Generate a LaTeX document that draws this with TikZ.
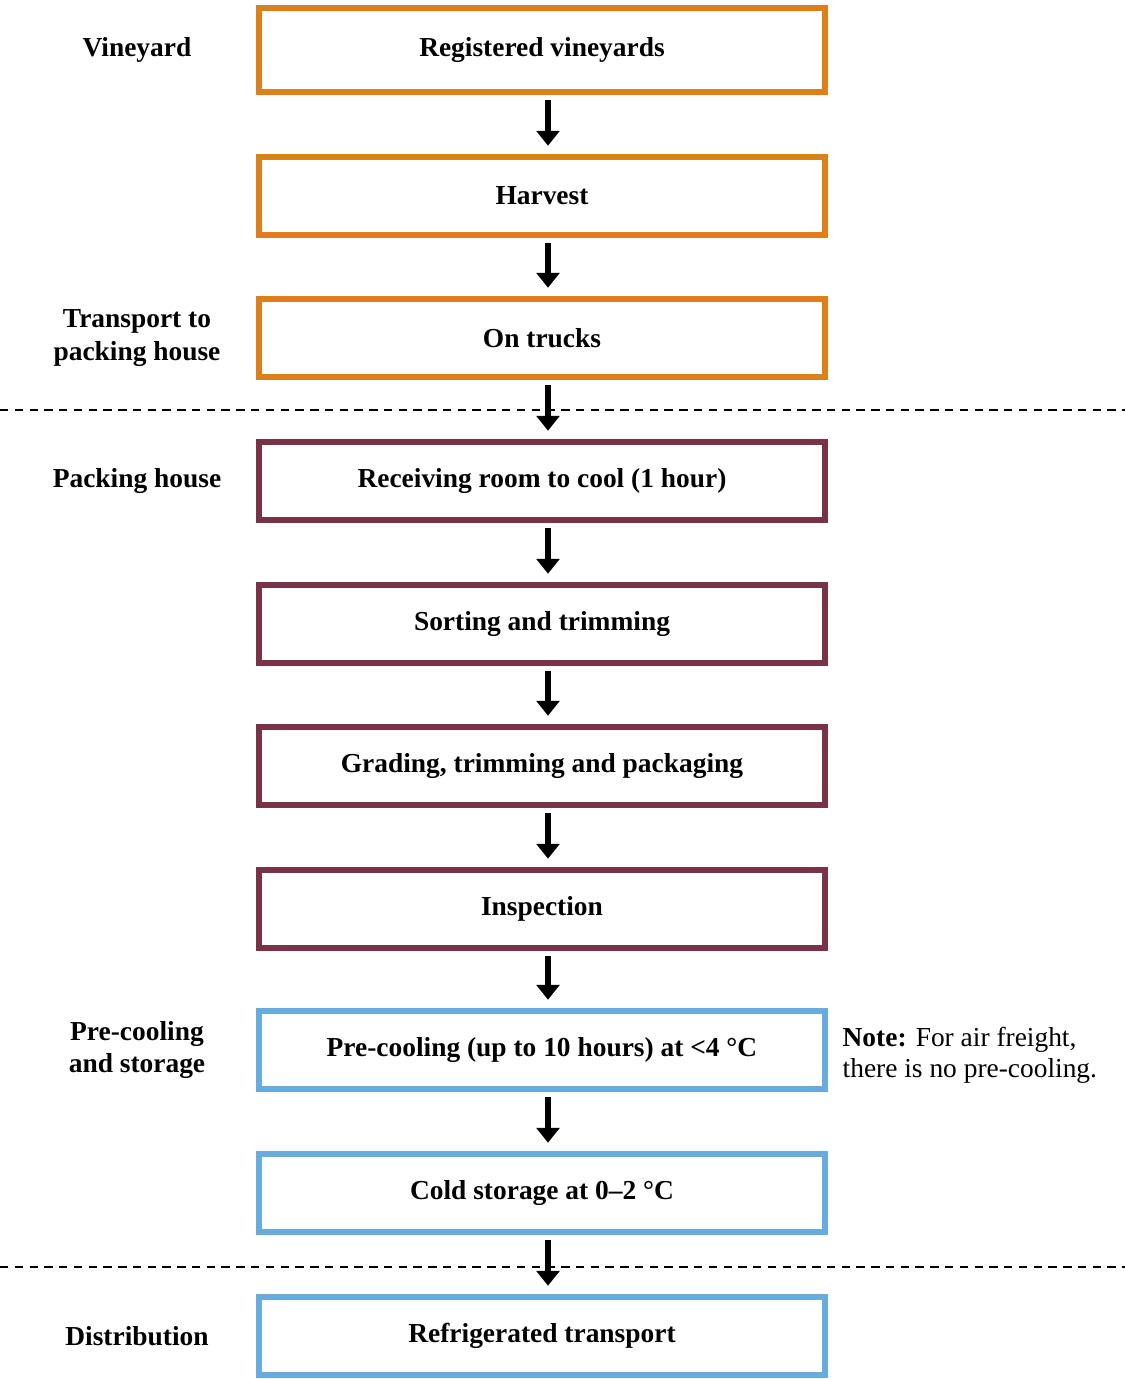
\documentclass[tikz,border=0pt]{standalone}
\usepackage{fontspec}
\setmainfont{Liberation Serif}
\usepackage{tikz}
\usetikzlibrary{arrows.meta}

\definecolor{vineorange}{RGB}{222,128,26}
\definecolor{packmaroon}{RGB}{122,50,70}
\definecolor{coolblue}{RGB}{104,172,222}

\begin{document}
\begin{tikzpicture}[x=0.025cm, y=-0.025cm, outer sep = 0pt]

\tikzstyle{stage}=[draw, rectangle, line width=4.2pt, minimum height=1.95cm, minimum width=14.15cm, font=\fontsize{19.5}{22}\selectfont\bfseries, fill=white]
\tikzstyle{phase}=[align=center, font=\fontsize{19.5}{23}\selectfont\bfseries]
\tikzstyle{flow}=[-{Triangle[width=16pt,length=10.5pt]}, line width=3.8pt, shorten <=5.5pt, shorten >=8pt]
\tikzstyle{divider}=[dashed, line width=1.4pt, dash pattern=on 6pt off 4.5pt]

\useasboundingbox (0,0) rectangle (1125,1379);

% dashed phase borders
\draw[divider] (0,410) -- (1125,410);
\draw[divider] (0,1267) -- (1125,1267);

\node[stage, draw=vineorange, minimum height=2.1cm] (vineyards) at (542,50) {Registered vineyards};
\node[stage, draw=vineorange] (harvest) at (542,196) {Harvest};
\node[stage, draw=vineorange] (trucks) at (542,338) {On trucks};
\node[stage, draw=packmaroon] (receive) at (542,481) {Receiving room to cool (1 hour)};
\node[stage, draw=packmaroon] (sort) at (542,624) {Sorting and trimming};
\node[stage, draw=packmaroon] (grade) at (542,766) {Grading, trimming and packaging};
\node[stage, draw=packmaroon] (inspect) at (542,909) {Inspection};
\node[stage, draw=coolblue] (precool) at (542,1050) {Pre-cooling (up to 10 hours) at <4 °C};
\node[stage, draw=coolblue] (coldstore) at (542,1193) {Cold storage at 0–2 °C};
\node[stage, draw=coolblue] (reefer) at (542,1336) {Refrigerated transport};

\node[phase] (lvine) at (137,50) {Vineyard};
\node[phase] (ltrans) at (137,338) {Transport to\\packing house};
\node[phase] (lpack) at (137,481) {Packing house};
\node[phase] (lcool) at (137,1050) {Pre-cooling\\and storage};
\node[phase] (ldist) at (137,1336) {Distribution};

\node[anchor=west, align=left, font=\fontsize{19.5}{22}\selectfont] (note) at (838,1055) {\textbf{Note:} For air freight,\\there is no pre-cooling.};

\draw[flow] (vineyards.south -| 548,0) -- (harvest.north -| 548,0);
\draw[flow] (harvest.south -| 548,0) -- (trucks.north -| 548,0);
\draw[flow] (trucks.south -| 548,0) -- (receive.north -| 548,0);
\draw[flow] (receive.south -| 548,0) -- (sort.north -| 548,0);
\draw[flow] (sort.south -| 548,0) -- (grade.north -| 548,0);
\draw[flow] (grade.south -| 548,0) -- (inspect.north -| 548,0);
\draw[flow] (inspect.south -| 548,0) -- (precool.north -| 548,0);
\draw[flow] (precool.south -| 548,0) -- (coldstore.north -| 548,0);
\draw[flow] (coldstore.south -| 548,0) -- (reefer.north -| 548,0);
\end{tikzpicture}
\end{document}
